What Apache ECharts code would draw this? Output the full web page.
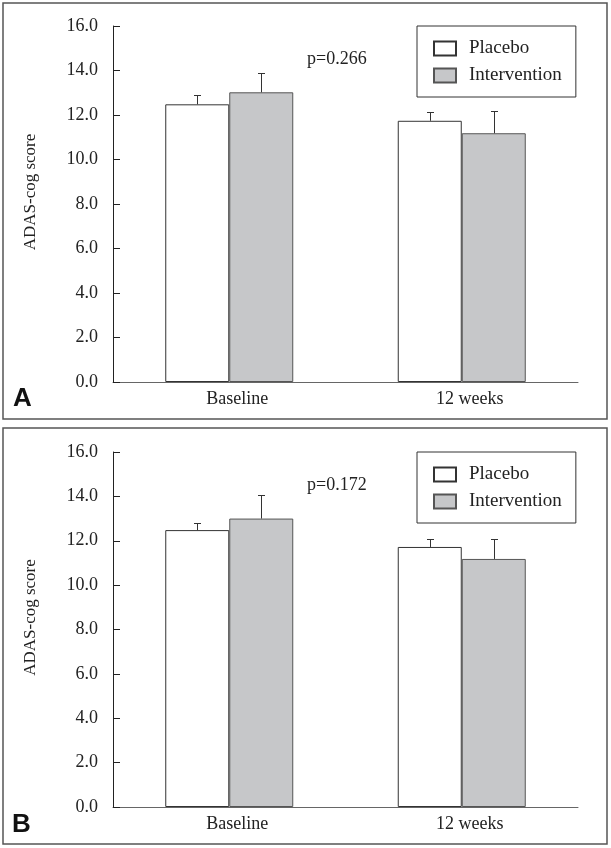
<!DOCTYPE html>
<html>
<head>
<meta charset="utf-8">
<script src="https://cdn.jsdelivr.net/npm/echarts@6/dist/echarts.min.js"></script>
<style>
html,body{margin:0;padding:0;background:#fff;}
#chart{width:611px;height:848px;}
</style>
</head>
<body>
<div id="chart"></div>
<script>
const categories = ['Baseline', '12 weeks'];
const seriesNames = ['Placebo', 'Intervention'];

const placeboA = [12.48, 11.74];
const placeboErrA = [0.43, 0.38];
const interventionA = [13.02, 11.18];
const interventionErrA = [0.85, 0.99];

const placeboB = [12.48, 11.72];
const placeboErrB = [0.32, 0.36];
const interventionB = [13.00, 11.18];
const interventionErrB = [1.08, 0.90];

const pLabels = ['p=0.266', 'p=0.172'];
const panelLabels = ['A', 'B'];
const yAxisName = 'ADAS-cog score';

const SERIF = '"Liberation Serif", "DejaVu Serif", serif';
const BAR_W = 64;
const GRAY = '#c6c7c9';

function errSeries(values, errs, side, axisIdx) {
  return {
    type: 'custom',
    xAxisIndex: axisIdx,
    yAxisIndex: axisIdx,
    z: 5,
    silent: true,
    encode: { x: 0, y: 1 },
    data: values.map((v, i) => [i, v, errs[i]]),
    renderItem: function (params, api) {
      const c = api.value(0), v = api.value(1), e = api.value(2);
      const base = api.coord([c, v]);
      const top = api.coord([c, v + e]);
      const x = Math.round(base[0] + side * BAR_W / 2) + 0.5;
      const yt = Math.round(top[1]) + 0.5;
      return {
        type: 'group',
        children: [
          { type: 'line', shape: { x1: x, y1: base[1], x2: x, y2: yt }, style: { stroke: '#333', lineWidth: 1 } },
          { type: 'line', shape: { x1: x - 3.5, y1: yt, x2: x + 3.5, y2: yt }, style: { stroke: '#333', lineWidth: 1 } }
        ]
      };
    }
  };
}

function barSeries(name, values, color, border, axisIdx) {
  return {
    name: name,
    type: 'bar',
    xAxisIndex: axisIdx,
    yAxisIndex: axisIdx,
    barWidth: BAR_W,
    barGap: '0%',
    data: values,
    itemStyle: { color: color, borderColor: border, borderWidth: 1 }
  };
}

const grids = [
  { left: 113, right: 33, top: 26, bottom: 466 },
  { left: 113, right: 33, top: 452, bottom: 41 }
];

const xAxes = [0, 1].map(i => ({
  type: 'category',
  gridIndex: i,
  data: categories,
  axisLine: { lineStyle: { color: '#666', width: 1 } },
  axisTick: { show: false },
  axisLabel: { color: '#222', fontFamily: SERIF, fontSize: 18, margin: 8, padding: [0, 0, 0, 16] }
}));

const yAxes = [0, 1].map(i => ({
  type: 'value',
  gridIndex: i,
  min: 0, max: 16, interval: 2,
  name: yAxisName,
  nameLocation: 'middle',
  nameGap: 74,
  nameTextStyle: { color: '#222', fontFamily: SERIF, fontSize: 17, padding: [0, 0, 0, 24] },
  axisLine: { show: true, lineStyle: { color: '#222', width: 1 } },
  axisTick: { show: true, inside: true, length: 7, lineStyle: { color: '#222' } },
  splitLine: { show: false },
  axisLabel: { color: '#222', fontFamily: SERIF, fontSize: 18, margin: 15, formatter: v => v.toFixed(1) }
}));

const legends = [26, 452].map(t => ({
  data: seriesNames.map(n => ({ name: n, icon: 'rect' })),
  orient: 'vertical',
  left: 417,
  top: t,
  padding: [13, 14, 12, 16],
  itemWidth: 22,
  itemHeight: 14,
  itemGap: 8,
  borderColor: '#333',
  borderWidth: 1,
  textStyle: { color: '#222', fontFamily: SERIF, fontSize: 19, padding: [0, 0, 0, 8] },
  selectedMode: false
}));

const titles = [
  { text: pLabels[0], left: 307, top: 50, textStyle: { fontFamily: SERIF, fontSize: 18, fontWeight: 'normal', color: '#222' }, padding: 0 },
  { text: pLabels[1], left: 307, top: 476, textStyle: { fontFamily: SERIF, fontSize: 18, fontWeight: 'normal', color: '#222' }, padding: 0 },
  { text: panelLabels[0], left: 13, top: 386, textStyle: { fontFamily: '"Liberation Sans", Arial, sans-serif', fontSize: 26, fontWeight: 'bold', color: '#111' }, padding: 0 },
  { text: panelLabels[1], left: 12, top: 812, textStyle: { fontFamily: '"Liberation Sans", Arial, sans-serif', fontSize: 26, fontWeight: 'bold', color: '#111' }, padding: 0 }
];

const chart = echarts.init(document.getElementById('chart'), null, { renderer: 'canvas' });
chart.setOption({
  animation: false,
  backgroundColor: '#fff',
  title: titles,
  legend: legends,
  grid: grids,
  xAxis: xAxes,
  yAxis: yAxes,
  graphic: [
    { type: 'rect', shape: { x: 3, y: 3, width: 604, height: 416 }, style: { fill: 'none', stroke: '#555', lineWidth: 1.5 }, silent: true },
    { type: 'rect', shape: { x: 3, y: 428, width: 604, height: 416 }, style: { fill: 'none', stroke: '#555', lineWidth: 1.5 }, silent: true }
  ],
  series: [
    barSeries(seriesNames[0], placeboA, '#ffffff', '#333', 0),
    barSeries(seriesNames[1], interventionA, GRAY, '#555', 0),
    errSeries(placeboA, placeboErrA, -1, 0),
    errSeries(interventionA, interventionErrA, 1, 0),
    barSeries(seriesNames[0], placeboB, '#ffffff', '#333', 1),
    barSeries(seriesNames[1], interventionB, GRAY, '#555', 1),
    errSeries(placeboB, placeboErrB, -1, 1),
    errSeries(interventionB, interventionErrB, 1, 1)
  ]
});
</script>
</body>
</html>
